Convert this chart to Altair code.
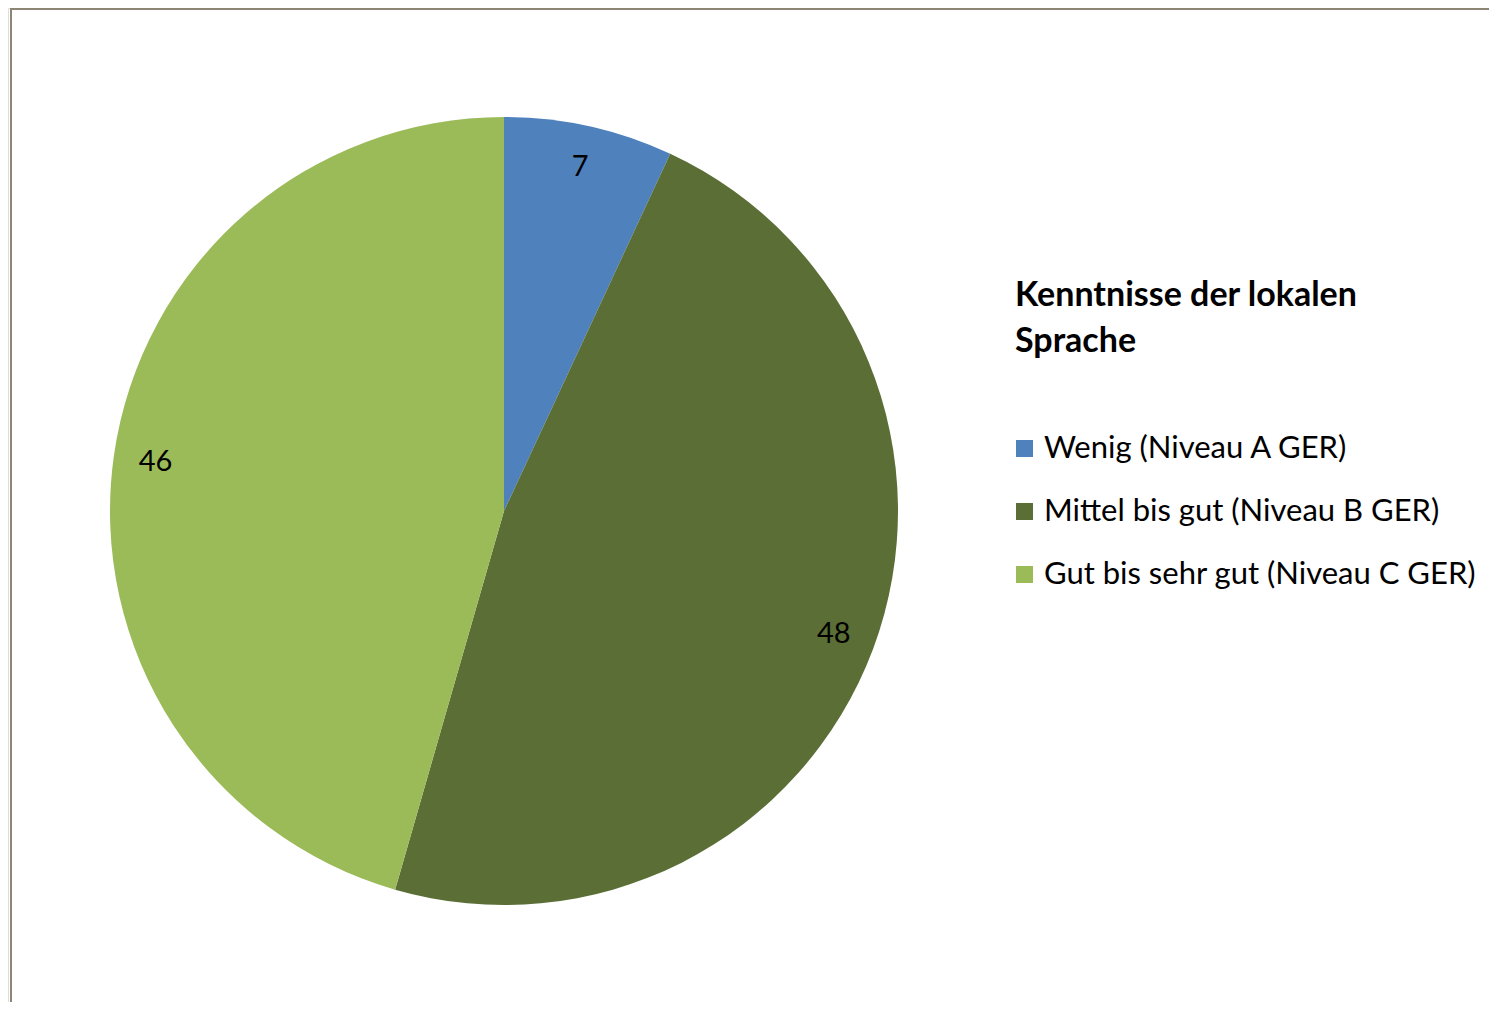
import altair as alt
import pandas as pd

categories = ["Wenig (Niveau A  GER)", "Mittel bis gut (Niveau B GER)", "Gut bis sehr gut (Niveau C GER)"]
values = [7, 48, 46]
colors = ["#4F81BD", "#5A6E35", "#9BBB59"]
legend_title = ["Kenntnisse der lokalen", "Sprache"]

df = pd.DataFrame({"cat": categories, "val": values, "idx": list(range(len(values)))})

base = alt.Chart(df).encode(
    theta=alt.Theta("val:Q", stack=True),
    order=alt.Order("idx:Q"),
)

arc = base.mark_arc(radius=394).encode(
    x=alt.value(496),
    y=alt.value(503),
    color=alt.Color(
        "cat:N",
        scale=alt.Scale(domain=categories, range=colors),
        sort=categories,
        legend=alt.Legend(
            title=legend_title,
            orient="none",
            legendX=1007,
            legendY=271,
            titleFont="Lato",
            titleFontSize=34,
            titleFontWeight="bold",
            titleColor="#000000",
            titleLineHeight=46,
            titleLimit=700,
            titlePadding=74,
            labelFont="Lato",
            labelFontSize=31,
            labelColor="#000000",
            labelLimit=700,
            labelOffset=4,
            symbolOffset=-6,
            symbolType="square",
            symbolSize=289,
            symbolStrokeWidth=0,
            rowPadding=31,
        ),
    ),
)

text = base.mark_text(radius=352, font="Lato", fontSize=29, color="#000000").encode(
    x=alt.value(496),
    y=alt.value(503),
    text="val:Q",
)

frame_left = alt.Chart(df).mark_rule(color="#8C8574", strokeWidth=2).encode(
    x=alt.value(3), y=alt.value(0), y2=alt.value(994)
)
frame_top = alt.Chart(df).mark_rule(color="#8C8574", strokeWidth=2).encode(
    x=alt.value(2), x2=alt.value(1481), y=alt.value(1)
)

chart = (
    alt.layer(frame_left, frame_top, arc, text)
    .properties(width=1481, height=994, autosize=alt.AutoSizeParams(type="none"), padding=0)
    .configure_view(stroke=None)
    .configure(background="white")
)

chart.save("out.html", embed_options={"renderer": "svg", "actions": False})
